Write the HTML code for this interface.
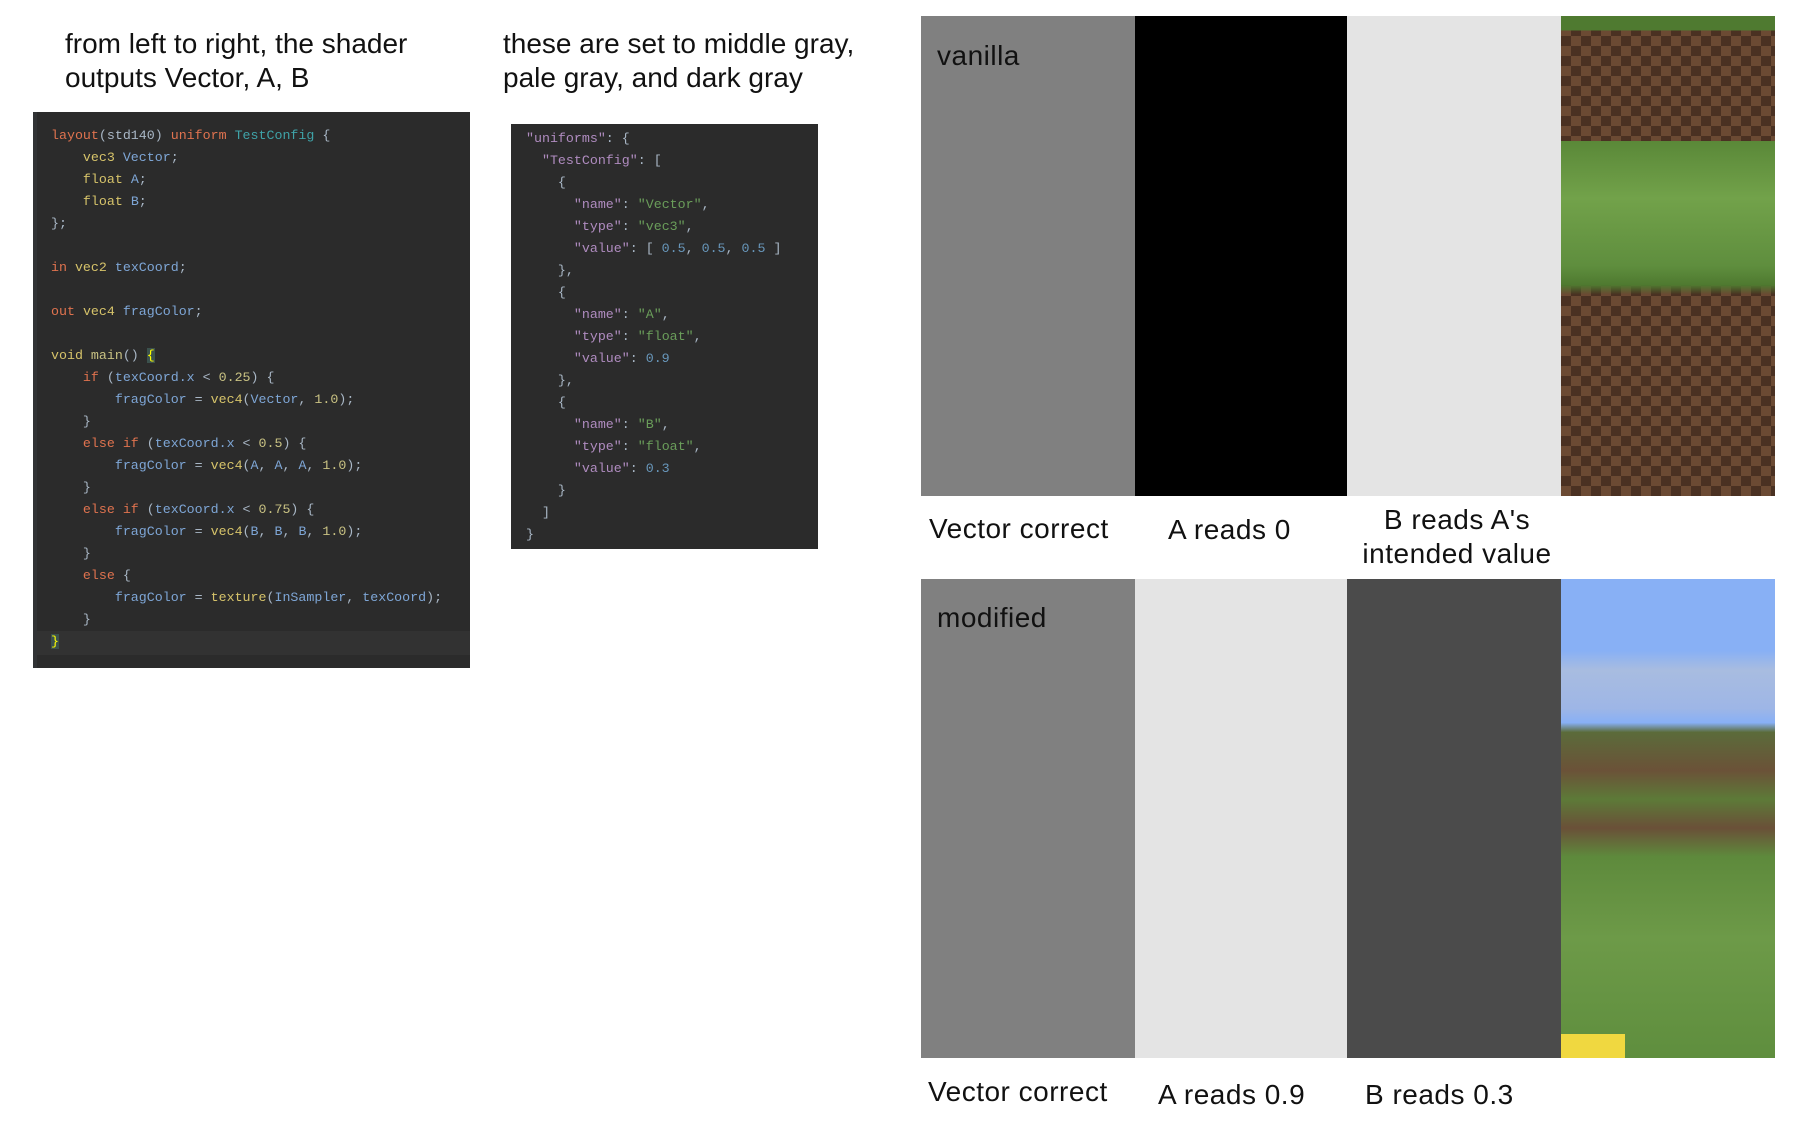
<!DOCTYPE html>
<html><head><meta charset="utf-8"><style>
*{margin:0;padding:0;box-sizing:border-box}
body{width:1820px;height:1128px;background:#fff;position:relative;overflow:hidden;font-family:"Liberation Sans",sans-serif;color:#111}
.t{position:absolute;font-size:28px;line-height:34px;white-space:nowrap}
.code{position:absolute;background:#2b2b2b;font-family:"Liberation Mono",monospace;font-size:13.3px;white-space:normal;color:#a9b7c6}
.code div{height:22px;line-height:22px;white-space:pre}
.k{color:#e0734f}.y{color:#d6c36a}.b{color:#7ea6d6}.c{color:#3fa3a8}.n{color:#c9c283}.g{color:#6a9d5a}.p{color:#b08cc0}.j{color:#6897bb}
.pan{position:absolute}
.lbl{position:absolute;font-size:28px;white-space:nowrap;color:#111;letter-spacing:0.5px}
</style></head><body>
<div class="t" style="left:65px;top:27px">from left to right, the shader<br>outputs Vector, A, B</div>
<div class="t" style="left:503px;top:27px">these are set to middle gray,<br>pale gray, and dark gray</div>

<div class="code" style="left:33px;top:112px;width:437px;height:556px;padding:13px 0 0 14px;border-left:4px solid #313335"><div style="position:absolute;left:0;top:519px;width:433px;height:24px;background:#323232"></div><div style="position:relative"><span class="k">layout</span>(std140) <span class="k">uniform</span> <span class="c">TestConfig</span> {</div><div>    <span class="y">vec3</span> <span class="b">Vector</span>;</div><div>    <span class="y">float</span> <span class="b">A</span>;</div><div>    <span class="y">float</span> <span class="b">B</span>;</div><div>};</div><div> </div><div><span class="k">in</span> <span class="y">vec2</span> <span class="b">texCoord</span>;</div><div> </div><div><span class="k">out</span> <span class="y">vec4</span> <span class="b">fragColor</span>;</div><div> </div><div><span class="y">void</span> <span class="n">main</span>() <span style="color:#ff0;background:#3b514d">{</span></div><div>    <span class="k">if</span> (<span class="b">texCoord.x</span> &lt; <span class="n">0.25</span>) {</div><div>        <span class="b">fragColor</span> = <span class="y">vec4</span>(<span class="b">Vector</span>, <span class="n">1.0</span>);</div><div>    }</div><div>    <span class="k">else if</span> (<span class="b">texCoord.x</span> &lt; <span class="n">0.5</span>) {</div><div>        <span class="b">fragColor</span> = <span class="y">vec4</span>(<span class="b">A</span>, <span class="b">A</span>, <span class="b">A</span>, <span class="n">1.0</span>);</div><div>    }</div><div>    <span class="k">else if</span> (<span class="b">texCoord.x</span> &lt; <span class="n">0.75</span>) {</div><div>        <span class="b">fragColor</span> = <span class="y">vec4</span>(<span class="b">B</span>, <span class="b">B</span>, <span class="b">B</span>, <span class="n">1.0</span>);</div><div>    }</div><div>    <span class="k">else</span> {</div><div>        <span class="b">fragColor</span> = <span class="y">texture</span>(<span class="b">InSampler</span>, <span class="b">texCoord</span>);</div><div>    }</div><div style="position:relative"><span style="color:#ff0;background:#3b514d">}</span></div></div>

<div class="code" style="left:511px;top:124px;width:307px;height:425px;padding:4px 0 0 15px"><div><span class="p">"uniforms"</span>: {</div><div>  <span class="p">"TestConfig"</span>: [</div><div>    {</div><div>      <span class="p">"name"</span>: <span class="g">"Vector"</span>,</div><div>      <span class="p">"type"</span>: <span class="g">"vec3"</span>,</div><div>      <span class="p">"value"</span>: [ <span class="j">0.5</span>, <span class="j">0.5</span>, <span class="j">0.5</span> ]</div><div>    },</div><div>    {</div><div>      <span class="p">"name"</span>: <span class="g">"A"</span>,</div><div>      <span class="p">"type"</span>: <span class="g">"float"</span>,</div><div>      <span class="p">"value"</span>: <span class="j">0.9</span></div><div>    },</div><div>    {</div><div>      <span class="p">"name"</span>: <span class="g">"B"</span>,</div><div>      <span class="p">"type"</span>: <span class="g">"float"</span>,</div><div>      <span class="p">"value"</span>: <span class="j">0.3</span></div><div>    }</div><div>  ]</div><div>}</div></div>

<!-- top row -->
<div class="pan" style="left:921px;top:16px;width:214px;height:480px;background:#808080"></div>
<div class="pan" style="left:1135px;top:16px;width:212px;height:480px;background:#000"></div>
<div class="pan" style="left:1347px;top:16px;width:214px;height:480px;background:#e4e4e4"></div>
<div class="pan" style="left:1561px;top:16px;width:214px;height:480px;
background:
linear-gradient(180deg,#4f7a30 0,#4f7a30 3%,transparent 3%,transparent 26%,#5a8838 26%,#72a24a 38%,#5f8e3e 52%,#4f7a30 56%,transparent 58%),
repeating-conic-gradient(#6b4a33 0 25%,#4a3122 0 50%) 0 0/20px 20px,#5a3d2a"></div>
<div class="lbl" style="left:937px;top:40px">vanilla</div>
<div class="lbl" style="left:929px;top:513px">Vector correct</div>
<div class="lbl" style="left:1168px;top:514px">A reads 0</div>
<div class="lbl" style="left:1457px;top:503px;transform:translateX(-50%);text-align:center;line-height:34px">B reads A's<br>intended value</div>

<!-- bottom row -->
<div class="pan" style="left:921px;top:579px;width:214px;height:479px;background:#808080"></div>
<div class="pan" style="left:1135px;top:579px;width:212px;height:479px;background:#e4e4e4"></div>
<div class="pan" style="left:1347px;top:579px;width:214px;height:479px;background:#4b4b4b"></div>
<div class="pan" style="left:1561px;top:579px;width:214px;height:479px;
background:
linear-gradient(180deg,transparent 0,transparent 95%,#f0d840 95%,#f0d840 100%) 0 0/30% 100% no-repeat,
linear-gradient(180deg,#88b0f5 0,#88b0f5 15%,#a8bce0 19%,#9eb6e6 27%,#88b0f5 30%,#5b6b3a 32%,#6b5238 40%,#5d7a38 46%,#6a5038 52%,#5e8a3c 58%,#6d9a48 75%,#5f8e3e 100%)"></div>
<div class="lbl" style="left:937px;top:602px">modified</div>
<div class="lbl" style="left:928px;top:1076px">Vector correct</div>
<div class="lbl" style="left:1158px;top:1079px">A reads 0.9</div>
<div class="lbl" style="left:1365px;top:1079px">B reads 0.3</div>
</body></html>
